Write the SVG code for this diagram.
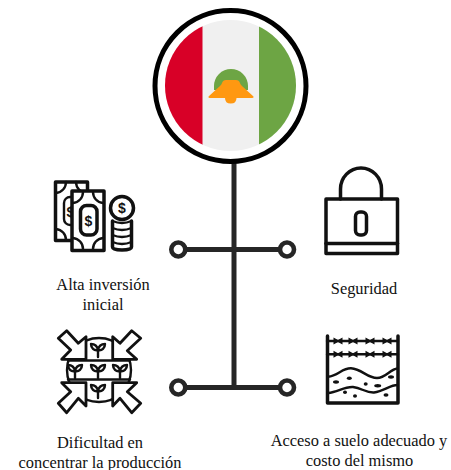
<svg xmlns="http://www.w3.org/2000/svg" width="451" height="470" viewBox="0 0 451 470">
<style>
.t{font-family:"Liberation Serif",serif;font-size:16.400px;fill:#111;text-anchor:middle}
.k{fill:none;stroke:#111;stroke-width:2.400;stroke-linejoin:round;stroke-linecap:round}
.b{fill:none;stroke:#111;stroke-width:3.500;stroke-linejoin:round;stroke-linecap:round}
.c{fill:none;stroke:#262626;stroke-width:5}
.n{fill:#fff;stroke:#262626;stroke-width:4.600}
.w{fill:#fff;stroke:#111;stroke-width:2.800;stroke-linejoin:round}
.d{font-family:"Liberation Sans",sans-serif;font-weight:700;fill:#111;text-anchor:middle;font-size:14px}
</style>
<defs>
<clipPath id="fc"><circle cx="230.500" cy="85.500" r="65.500"/></clipPath>
<g id="sprout"><path class="k" d="M0 8V-1M0 1C-1-4-5-5-7-5C-7-1-4 2 0 1ZM0 1C1-4 5-5 7-5C7-1 4 2 0 1Z"/></g>
<g id="barb"><path d="M-4.500-3.500L0-1L4.500-3.500V3.500L0 1L-4.500 3.500Z" fill="#111"/></g>
</defs>
<g id="connectors">
<path class="c" d="M234 162V388M178 249.500H287M178 387.500H287"/>
<circle class="n" cx="178.300" cy="249.500" r="7"/>
<circle class="n" cx="287" cy="249.500" r="7"/>
<circle class="n" cx="178.300" cy="387.500" r="7"/>
<circle class="n" cx="287" cy="387.500" r="7"/>
</g>
<g id="flag-node">
<circle cx="230.500" cy="86" r="75.500" fill="#fff" stroke="#000" stroke-width="5"/>
<g clip-path="url(#fc)">
<rect x="160" y="15" width="142" height="142" fill="#f0f0f0"/>
<rect x="160" y="15" width="42.500" height="142" fill="#d80027"/>
<rect x="259" y="15" width="43" height="142" fill="#6da544"/>
</g>
<path d="M214 90V86A17 17 0 0 1 248 86V90Z" fill="#6da544"/>
<path d="M208.500 96.500L220 86Q222 84 222 83Q223 80 226 80H236Q239 80 240 83Q240 84 242 86L253.500 96.500Q254 98 252 98H236.500Q236.500 103.500 230.700 103.500Q225 103.500 225 98H210Q208 98 208.500 96.500Z" fill="#ff9811"/>
</g>
<g id="money-node">
<rect class="b" x="55.500" y="182" width="32" height="58.500"/>
<path class="k" d="M56 193A11 11 0 0 0 66 182M76 182A11 11 0 0 0 87 193M56 229A11 11 0 0 1 66 240"/>
<rect class="k" x="64" y="197" width="14" height="28" rx="6"/>
<text class="d" x="70.500" y="217">$</text>
<rect x="72" y="191" width="32" height="59.500" fill="#fff" stroke="#111" stroke-width="3.500" stroke-linejoin="round"/>
<path class="k" d="M73 203A11 11 0 0 0 83 192M93 192A11 11 0 0 0 103 203M73 238A11 11 0 0 1 83 249M93 249A11 11 0 0 1 103 238"/>
<rect class="b" x="80.500" y="205.500" width="16.500" height="29.500" rx="6"/>
<text class="d" x="88.300" y="226">$</text>
<circle class="b" cx="122" cy="208" r="11.500"/>
<text class="d" x="122" y="213">$</text>
<path class="b" d="M112.500 221V247Q112.500 250 122 250Q131.500 250 131.500 247V221"/>
<path class="k" d="M112.500 221Q122 225 131.500 221M112.500 228Q122 232 131.500 228M112.500 235Q122 239 131.500 235M112.500 242Q122 246 131.500 242"/>
</g>
<g id="seguridad-node">
<path class="b" d="M340.500 199V189A20.500 21 0 0 1 381.500 189V199"/>
<rect class="b" x="326" y="199" width="71.500" height="54.500"/>
<path class="b" d="M326 243.500H397.500"/>
<rect class="b" x="355.500" y="212" width="11" height="23" rx="4.500"/>
</g>
<g id="dificultad-node">
<circle class="k" cx="99" cy="370" r="32"/>
<path class="k" d="M68 360.500H130M68 379.500H130"/>
<use href="#sprout" x="98" y="349"/>
<use href="#sprout" x="75" y="370"/>
<use href="#sprout" x="98" y="370"/>
<use href="#sprout" x="120" y="370"/>
<use href="#sprout" x="98" y="390"/>
<path class="w" d="M86 336.700V359.300H61.700L70.700 350L58.300 338.300L66.700 330.700L78.300 343.300Z"/>
<path class="w" d="M112.700 336.700V359.300H136.700L127.300 350.700L140.700 338.300L131.700 330.700L120 343.300Z"/>
<path class="w" d="M86 406V382.700H61.700L70.700 391.700L58.300 403.300L66.700 412.700L78.300 398.300Z"/>
<path class="w" d="M112.700 406V382.700H136.700L127.300 391.700L140.700 403.300L131.700 412.700L120 398.300Z"/>
</g>
<g id="suelo-node">
<path class="b" d="M327.500 336V403H398V336"/>
<path class="k" d="M327 341H398M327 354.300H398"/>
<use href="#barb" x="338" y="341"/><use href="#barb" x="353" y="341"/><use href="#barb" x="370" y="341"/><use href="#barb" x="387" y="341"/>
<use href="#barb" x="338" y="354.300"/><use href="#barb" x="353" y="354.300"/><use href="#barb" x="370" y="354.300"/><use href="#barb" x="387" y="354.300"/>
<path class="k" d="M328 376.700C338 376 342 368 351 368.300C362 369 367 378 377 378C386 378 390 369 397.500 368.500"/>
<path class="k" d="M328 393C338 392 344 386.500 353 387C362 388 366 393 374 392.500C384 391 390 385 397.500 385"/>
<g fill="#111"><ellipse cx="336" cy="382" rx="3" ry="1.700"/><ellipse cx="349.300" cy="378.300" rx="2.500" ry="1.700"/><ellipse cx="391" cy="377" rx="3" ry="1.700"/><ellipse cx="365.700" cy="384" rx="2" ry="1.700"/><ellipse cx="377.700" cy="385.700" rx="3.500" ry="1.700"/><ellipse cx="345" cy="392.300" rx="2" ry="1.700"/><ellipse cx="355" cy="396" rx="2" ry="1.700"/><ellipse cx="386" cy="395" rx="2.500" ry="1.700"/></g>
</g>
<g id="labels">
<text class="t" x="103" y="290">Alta inversión</text>
<text class="t" x="103" y="310">inicial</text>
<text class="t" x="364" y="294">Seguridad</text>
<text class="t" x="100" y="447.500">Dificultad en</text>
<text class="t" x="100" y="467.500">concentrar la producción</text>
<text class="t" x="359" y="445.500">Acceso a suelo adecuado y</text>
<text class="t" x="359.500" y="465.500">costo del mismo</text>
</g>
</svg>
